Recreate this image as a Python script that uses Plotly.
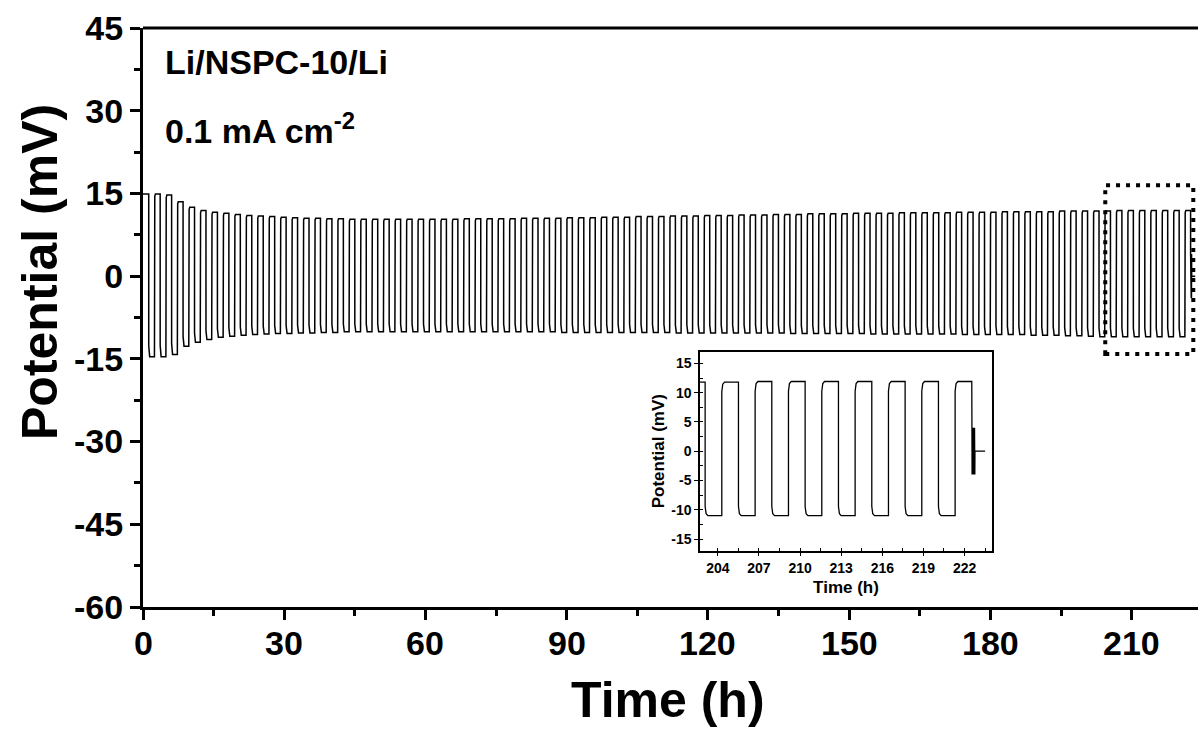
import plotly.graph_objects as go

# ---------------- data ----------------
cycle_period_h = 2.432          # one charge + one discharge half-cycle
# positive plateau potential (mV) of each cycle, cycle 0 starts at t = 0 h
peak_mv = [14.9, 14.9, 14.7, 13.5, 12.5, 11.9, 11.6, 11.4, 11.2, 11.0,
           10.9, 10.8, 10.7, 10.6, 10.5, 10.5, 10.4, 10.4, 10.3, 10.3,
           10.3, 10.3, 10.3, 10.3, 10.3, 10.3, 10.3, 10.3, 10.4, 10.4,
           10.4, 10.4, 10.4, 10.5, 10.5, 10.5, 10.5, 10.6, 10.6, 10.6,
           10.7, 10.7, 10.7, 10.8, 10.8, 10.8, 10.9, 10.9, 10.9, 11.0,
           11.0, 11.0, 11.1, 11.1, 11.1, 11.2, 11.2, 11.2, 11.3, 11.3,
           11.3, 11.3, 11.4, 11.4, 11.4, 11.4, 11.5, 11.5, 11.5, 11.5,
           11.5, 11.6, 11.6, 11.6, 11.6, 11.7, 11.7, 11.7, 11.7, 11.7,
           11.8, 11.8, 11.8, 11.8, 11.8, 11.9, 11.9, 11.9, 11.9, 11.9,
           11.9, 11.9]
# negative plateau potential (mV) of each cycle
trough_mv = [-14.6, -14.6, -14.2, -12.7, -12.0, -11.5, -11.1, -10.9, -10.7, -10.6,
             -10.5, -10.4, -10.4, -10.3, -10.3, -10.2, -10.2, -10.1, -10.1, -10.1,
             -10.1, -10.1, -10.1, -10.1, -10.1, -10.1, -10.1, -10.1, -10.1, -10.1,
             -10.1, -10.1, -10.1, -10.1, -10.1, -10.1, -10.2, -10.2, -10.2, -10.2,
             -10.2, -10.2, -10.2, -10.2, -10.2, -10.2, -10.3, -10.3, -10.3, -10.3,
             -10.3, -10.3, -10.3, -10.3, -10.3, -10.3, -10.4, -10.4, -10.4, -10.4,
             -10.4, -10.4, -10.4, -10.5, -10.5, -10.5, -10.5, -10.5, -10.5, -10.5,
             -10.5, -10.6, -10.6, -10.6, -10.6, -10.6, -10.6, -10.7, -10.7, -10.7,
             -10.8, -10.8, -10.9, -11.0, -11.0, -11.0, -11.0, -11.0, -11.0, -11.0,
             -11.0]
# end of the record (relaxation, noisy around 0 mV)
tail_time_h = [222.53, 222.55, 222.57, 222.59, 222.61, 222.63, 222.65, 222.67,
               222.69, 222.71, 222.73, 222.75, 222.76, 223.50]
tail_mv = [4.0, -4.0, 4.0, -4.0, 4.0, -4.0, 4.0, -4.0,
           4.0, -4.0, 4.0, -4.0, 0.0, 0.0]

x_ticks = [0, 30, 60, 90, 120, 150, 180, 210]
y_ticks = [-60, -45, -30, -15, 0, 15, 30, 45]
inset_x_ticks = [204, 207, 210, 213, 216, 219, 222]
inset_y_ticks = [-15, -10, -5, 0, 5, 10, 15]


def build_wave():
    ts, vs = [], []
    half = cycle_period_h / 2
    for k, p in enumerate(peak_mv):
        t0 = k * cycle_period_h
        if k == 0:
            ts += [t0, t0 + 0.2]
            vs += [p, p]
        else:
            ts += [t0, t0, t0 + 0.07, t0 + 0.2]
            vs += [trough_mv[k - 1], 0.86 * p, 0.97 * p, p]
        th = t0 + half
        ts.append(th)
        vs.append(p)
        if k < len(trough_mv):
            q = trough_mv[k]
            ts += [th, th + 0.07, th + 0.2, t0 + cycle_period_h]
            vs += [0.86 * q, 0.97 * q, q, q]
    ts += tail_time_h
    vs += tail_mv
    return ts, vs


def hyphen_labels(vals):
    return [str(x).replace("\u2212", "-") for x in vals]


t, v = build_wave()

font_family = "Arial, 'Liberation Sans', sans-serif"

fig = go.Figure()
fig.add_trace(go.Scatter(x=t, y=v, mode="lines", line=dict(color="black", width=1.5),
                         xaxis="x", yaxis="y", showlegend=False, hoverinfo="skip"))
fig.add_trace(go.Scatter(x=t, y=v, mode="lines", line=dict(color="black", width=1.3),
                         xaxis="x2", yaxis="y2", showlegend=False, hoverinfo="skip"))

big_tick_font = dict(family=font_family, size=34, color="black", weight="bold")
small_tick_font = dict(family=font_family, size=14, color="black", weight="bold")

fig.update_layout(
    width=1198, height=740,
    margin=dict(l=143, r=0, t=28, b=133),
    paper_bgcolor="white", plot_bgcolor="white",
    xaxis=dict(range=[0, 224.1], tickvals=x_ticks, showticklabels=False,
               ticks="outside", ticklen=10, tickwidth=3,
               tickcolor="black", showline=True, linewidth=3, linecolor="black",
               showgrid=False, zeroline=False,
               minor=dict(dtick=15, tick0=0, ticks="outside", ticklen=6, tickwidth=3,
                          tickcolor="black", showgrid=False),
               domain=[0, 1], anchor="y"),
    yaxis=dict(range=[-60, 45], tickvals=y_ticks, ticktext=hyphen_labels(y_ticks),
               ticks="outside", ticklen=10, tickwidth=3,
               tickcolor="black", showline=True, linewidth=3, linecolor="black",
               showgrid=False, zeroline=False, tickfont=big_tick_font,
               minor=dict(dtick=7.5, tick0=0, ticks="outside", ticklen=6, tickwidth=3,
                          tickcolor="black", showgrid=False),
               domain=[0, 1], anchor="x"),
    xaxis2=dict(range=[202.7, 224.0], tickvals=inset_x_ticks,
                ticktext=hyphen_labels(inset_x_ticks), ticks="outside", ticklen=4,
                tickwidth=1.2, tickcolor="black", showline=True, linewidth=1.5,
                linecolor="black", mirror=True, showgrid=False, zeroline=False,
                tickfont=small_tick_font,
                minor=dict(dtick=1.5, tick0=204, ticks="inside", ticklen=3, tickwidth=1,
                           tickcolor="black", showgrid=False),
                domain=[0.528, 0.8047], anchor="y2",
                title=dict(text="Time (h)", standoff=6,
                           font=dict(family=font_family, size=17, color="black", weight="bold"))),
    yaxis2=dict(range=[-17, 17], tickvals=inset_y_ticks,
                ticktext=hyphen_labels(inset_y_ticks), ticks="outside", ticklen=4,
                tickwidth=1.2, tickcolor="black", showline=True, linewidth=1.5,
                linecolor="black", mirror=True, showgrid=False, zeroline=False,
                tickfont=small_tick_font,
                minor=dict(dtick=2.5, tick0=0, ticks="inside", ticklen=3, tickwidth=1,
                           tickcolor="black", showgrid=False),
                domain=[0.0972, 0.441], anchor="x2",
                title=dict(text="Potential (mV)", standoff=2,
                           font=dict(family=font_family, size=17, color="black", weight="bold"))),
)

# main x tick labels, placed just under the ticks
for xv, lab in zip(x_ticks, hyphen_labels(x_ticks)):
    fig.add_annotation(text=lab, xref="x", yref="paper", x=xv, y=0, yanchor="top",
                       xanchor="center", yshift=-15, showarrow=False, font=big_tick_font)

# top frame line (the right frame is outside the picture)
fig.add_shape(type="line", xref="paper", yref="paper", x0=0, x1=1, y0=1, y1=1,
              line=dict(color="black", width=3))
# dotted box marking the zoomed region
fig.add_shape(type="rect", xref="x", yref="y", x0=204.4, x1=223.1, y0=-14.1, y1=16.5,
              line=dict(color="black", width=4, dash="4px,6px"), fillcolor="rgba(0,0,0,0)")

title_font = dict(family=font_family, size=50, color="black", weight="bold")
fig.add_annotation(text="Potential (mV)", xref="paper", yref="paper",
                   x=(40 - 143) / 1055, y=(607 - 272) / 579, textangle=-90,
                   showarrow=False, font=title_font, xanchor="center", yanchor="middle")
fig.add_annotation(text="Time (h)", xref="paper", yref="paper",
                   x=(668 - 143) / 1055, y=(607 - 700) / 579,
                   showarrow=False, font=title_font, xanchor="center", yanchor="middle")

label_font = dict(family=font_family, size=34, color="black", weight="bold")
fig.add_annotation(text="Li/NSPC-10/Li", xref="paper", yref="paper",
                   x=(163 - 143) / 1055, y=(607 - 62) / 579,
                   showarrow=False, font=label_font, xanchor="left", yanchor="middle")
fig.add_annotation(text="0.1 mA cm<sup>-2</sup>", xref="paper", yref="paper",
                   x=(163 - 143) / 1055, y=(607 - 128) / 579,
                   showarrow=False, font=label_font, xanchor="left", yanchor="middle")

fig.write_html("out.html")
